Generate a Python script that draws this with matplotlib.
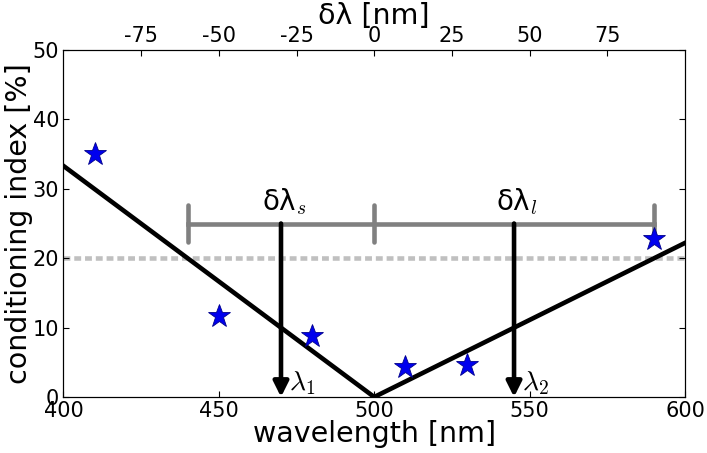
import numpy as np
import matplotlib
matplotlib.use('Agg')
import matplotlib.pyplot as plt

plt.rcParams['mathtext.fontset'] = 'cm'
plt.rcParams['axes.unicode_minus'] = False
plt.rcParams['xtick.direction'] = 'in'
plt.rcParams['ytick.direction'] = 'in'

# measured points
wl = [410, 450, 480, 510, 530, 590]
cond = [35.0, 11.7, 8.8, 4.3, 4.6, 22.8]

# model V-shaped curve
model_x = [400, 500, 600]
model_y = [33.3, 0, 22.2]

lam0 = 500
lam1 = 470
lam2 = 545
bar_lo = 440
bar_hi = 590
bar_y = 25
threshold = 20

top_ticks = [-75, -50, -25, 0, 25, 50, 75]

fig = plt.figure(figsize=(7.07, 4.53), dpi=100)
ax = fig.add_axes([0.0898, 0.1236, 0.879, 0.766])

ax.plot(model_x, model_y, color='k', lw=3.3, zorder=3)
ax.axhline(threshold, color='#c0c0c0', lw=3.3, dashes=[1.5, 0.85], zorder=1)

# delta lambda bar
ax.plot([bar_lo, bar_hi], [bar_y, bar_y], color='gray', lw=3.3, zorder=2)
for xc in [bar_lo, lam0, bar_hi]:
    ax.plot([xc, xc], [bar_y - 2.6, bar_y + 2.6], color='gray', lw=3.3,
            solid_capstyle='round', zorder=2)

for xa in [lam1, lam2]:
    ax.annotate('', xy=(xa, 0), xytext=(xa, bar_y),
                arrowprops=dict(arrowstyle='-|>,head_width=0.45,head_length=0.9',
                                color='k', lw=3.3, shrinkA=0, shrinkB=0),
                zorder=4)

ax.plot(wl, cond, '*', color='#0000ee', mec='#00008b', mew=0.6, ms=17, zorder=5)

ax.text((bar_lo + lam0) / 2 + 1, bar_y + 1, r'δλ$_s$', fontsize=20,
        ha='center', va='bottom')
ax.text((lam0 + bar_hi) / 2 + 1, bar_y + 1, r'δλ$_l$', fontsize=20,
        ha='center', va='bottom')
ax.text(lam1 + 2.5, 0.0, r'$\lambda_1$', fontsize=20, ha='left', va='bottom')
ax.text(lam2 + 2.5, 0.0, r'$\lambda_2$', fontsize=20, ha='left', va='bottom')

ax.set_xlim(400, 600)
ax.set_ylim(0, 50)
ax.set_xticks([400, 450, 500, 550, 600])
ax.set_yticks([0, 10, 20, 30, 40, 50])
ax.tick_params(labelsize=15, right=True, length=4, pad=3)
ax.set_xlabel('wavelength [nm]', fontsize=20.5, labelpad=-1)
ax.set_ylabel('conditioning index [%]', fontsize=20.5, labelpad=0)

ax2 = ax.twiny()
ax2.set_xlim(-100, 100)
ax2.set_xticks(top_ticks)
ax2.tick_params(labelsize=15, length=4, direction='in', pad=3)
ax2.set_xlabel('δλ [nm]', fontsize=20.5, labelpad=1)

fig.savefig('out.png', dpi=100)
